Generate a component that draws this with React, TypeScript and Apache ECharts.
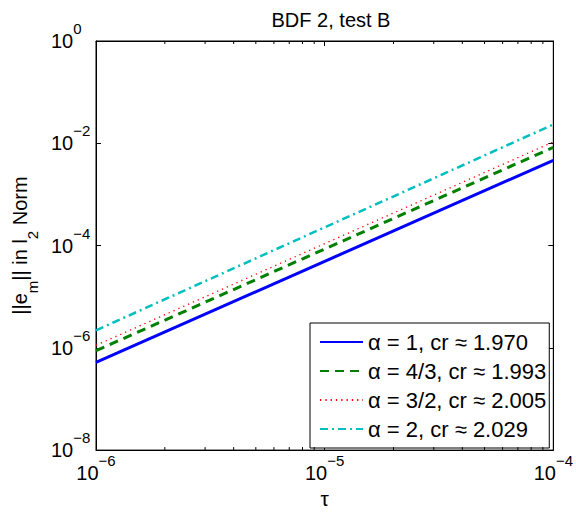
import React, { useEffect, useRef } from 'react';
import * as echarts from 'echarts';

const tau = [1e-6, 1e-5, 1e-4];
const errAlpha1 = [5.19e-7, 4.91e-5, 4.64e-3];
const errAlpha43 = [8.77e-7, 8.55e-5, 8.32e-3];
const errAlpha32 = [1.12e-6, 1.09e-4, 1.065e-2];
const errAlpha2 = [2.2e-6, 2.27e-4, 2.33e-2];
const seriesNames = ['α = 1, cr ≈ 1.970', 'α = 4/3, cr ≈ 1.993', 'α = 3/2, cr ≈ 2.005', 'α = 2, cr ≈ 2.029'];
const xMinorTicks = [2e-6, 3e-6, 4e-6, 5e-6, 6e-6, 7e-6, 8e-6, 9e-6, 2e-5, 3e-5, 4e-5, 5e-5, 6e-5, 7e-5, 8e-5, 9e-5];

const FONT = 'Liberation Sans, Arial, Helvetica, sans-serif';

function powLabel(v: number) {
  const e = Math.round(Math.log10(v));
  const s = e < 0 ? '\u2212' + -e : String(e);
  return '{b|10}{s|' + s + '}';
}

const labelRich = {
  b: { fontSize: 20, lineHeight: 20, fontFamily: FONT, color: '#000', verticalAlign: 'bottom' },
  s: { fontSize: 15, lineHeight: 15, fontFamily: FONT, color: '#000', verticalAlign: 'bottom', padding: [0, 0, 15, 0] },
};

export default function App() {
  const ref = useRef<HTMLDivElement>(null);
  useEffect(() => {
    if (!ref.current) return;
    const chart = echarts.init(ref.current, undefined, { renderer: 'svg' });
    const dataFor = (arr: number[]) => tau.map((t, i) => [t, arr[i]]);
    const option: any = {
      animation: false,
      backgroundColor: '#fff',
      textStyle: { fontFamily: FONT },
      title: {
        text: 'BDF 2, test B',
        left: 326,
        textAlign: 'center',
        top: 5,
        textStyle: { fontSize: 20, fontWeight: 'normal', color: '#000', fontFamily: FONT },
      },
      grid: { left: 96, right: 20, top: 41, bottom: 62, show: true, borderColor: '#000', borderWidth: 1, backgroundColor: 'transparent' },
      legend: {
        data: seriesNames,
        orient: 'vertical',
        left: 310,
        top: 323,
        padding: [8, 3, 8, 9],
        itemGap: 7,
        itemWidth: 43,
        itemHeight: 14,
        selectedMode: false,
        backgroundColor: '#fff',
        borderColor: '#000',
        borderWidth: 1,
        itemStyle: { opacity: 0, borderWidth: 0 },
        textStyle: { fontSize: 22, lineHeight: 22, color: '#000', fontFamily: FONT },
      },
      xAxis: [
        {
          type: 'log', logBase: 10, min: 1e-6, max: 1e-4, interval: 1,
          position: 'bottom',
          name: 'τ', nameLocation: 'middle', nameGap: 31,
          nameTextStyle: { fontSize: 21, color: '#000', fontFamily: FONT },
          axisLine: { show: true, lineStyle: { color: '#000', width: 1 } },
          axisTick: { show: true, inside: true, length: 5, lineStyle: { color: '#000' } },
          axisLabel: { formatter: powLabel, rich: labelRich, margin: 13, color: '#000' },
          splitLine: { show: false },
        },
        {
          type: 'log', logBase: 10, min: 1e-6, max: 1e-4, interval: 1,
          position: 'top',
          axisLine: { show: true, lineStyle: { color: '#000', width: 1 } },
          axisTick: { show: true, inside: true, length: 5, lineStyle: { color: '#000' } },
          axisLabel: { show: false },
          splitLine: { show: false },
        },
      ],
      yAxis: [
        {
          type: 'log', logBase: 10, min: 1e-8, max: 1, interval: 2,
          position: 'left',
          name: '{a|||e}{m|m}{a||| in l}{m|2}{a| Norm}',
          nameLocation: 'middle', nameGap: 62, nameRotate: 90,
          nameTextStyle: {
            color: '#000', fontFamily: FONT, fontSize: 20,
            rich: {
              a: { fontSize: 20, lineHeight: 20, fontFamily: FONT, color: '#000', verticalAlign: 'top' },
              m: { fontSize: 15, lineHeight: 15, fontFamily: FONT, color: '#000', verticalAlign: 'top', padding: [15, 0, 0, 0] },
            },
          },
          axisLine: { show: true, lineStyle: { color: '#000', width: 1 } },
          axisTick: { show: true, inside: true, length: 5, lineStyle: { color: '#000' } },
          axisLabel: { formatter: powLabel, rich: labelRich, margin: 45, align: 'left', color: '#000' },
          splitLine: { show: false },
        },
        {
          type: 'log', logBase: 10, min: 1e-8, max: 1, interval: 2,
          position: 'right',
          axisLine: { show: true, lineStyle: { color: '#000', width: 1 } },
          axisTick: { show: true, inside: true, length: 5, lineStyle: { color: '#000' } },
          axisLabel: { show: false },
          splitLine: { show: false },
        },
      ],
      series: [
        {
          name: seriesNames[0], type: 'line', data: dataFor(errAlpha1), showSymbol: false, symbol: 'none',
          lineStyle: { color: '#0000ff', width: 3, type: 'solid' }, itemStyle: { color: '#0000ff' },
        },
        {
          name: seriesNames[1], type: 'line', data: dataFor(errAlpha43), showSymbol: false, symbol: 'none',
          lineStyle: { color: '#008000', width: 3, type: [9, 6] }, itemStyle: { color: '#008000' },
        },
        {
          name: seriesNames[2], type: 'line', data: dataFor(errAlpha32), showSymbol: false, symbol: 'none',
          lineStyle: { color: '#ff0000', width: 1.3, type: [1.3, 4] }, itemStyle: { color: '#ff0000' },
        },
        {
          name: seriesNames[3], type: 'line', data: dataFor(errAlpha2), showSymbol: false, symbol: 'none',
          lineStyle: { color: '#00bfbf', width: 2.5, type: [8, 4, 2, 4] }, itemStyle: { color: '#00bfbf' },
        },
        {
          type: 'custom', silent: true, clip: false, z: 5,
          data: xMinorTicks.map((v) => [v, 1e-8]),
          renderItem: (_p: any, api: any) => {
            const v = api.value(0);
            const b = api.coord([v, 1e-8]);
            const t = api.coord([v, 1]);
            return {
              type: 'group',
              children: [
                { type: 'line', shape: { x1: b[0], y1: b[1], x2: b[0], y2: b[1] - 3 }, style: { stroke: '#000', lineWidth: 1 } },
                { type: 'line', shape: { x1: t[0], y1: t[1], x2: t[0], y2: t[1] + 3 }, style: { stroke: '#000', lineWidth: 1 } },
              ],
            };
          },
        },
      ],
    };
    chart.setOption(option);
    return () => chart.dispose();
  }, []);
  return <div ref={ref} style={{ position: 'fixed', left: 0, top: 0, width: 576, height: 514 }} />;
}
